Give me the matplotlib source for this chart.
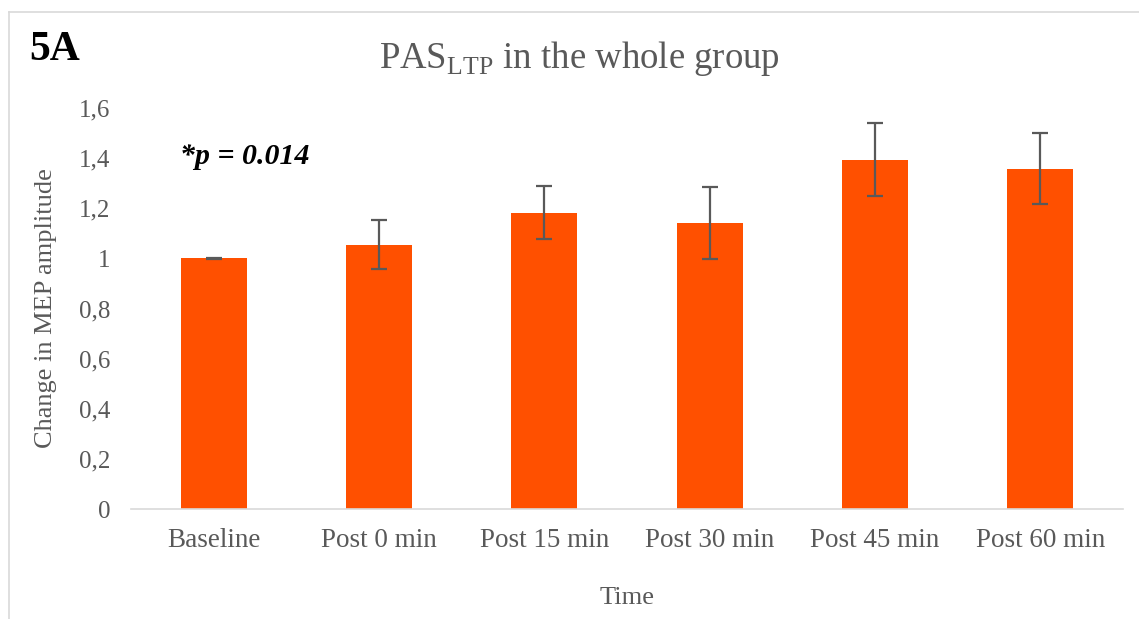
import numpy as np
import matplotlib.pyplot as plt
from matplotlib.lines import Line2D

plt.rcParams['font.family'] = ['Liberation Serif', 'DejaVu Serif']
plt.rcParams['mathtext.fontset'] = 'custom'
plt.rcParams['mathtext.rm'] = 'Liberation Serif'

# data
categories = ['Baseline', 'Post 0 min', 'Post 15 min', 'Post 30 min', 'Post 45 min', 'Post 60 min']
values = [1.0, 1.054, 1.183, 1.142, 1.394, 1.358]
errors = [0.002, 0.098, 0.105, 0.143, 0.145, 0.142]
yticks = [0, 0.2, 0.4, 0.6, 0.8, 1.0, 1.2, 1.4, 1.6]
ytick_labels = ['0', '0,2', '0,4', '0,6', '0,8', '1', '1,2', '1,4', '1,6']

grey = '#595959'
bar_col = '#FF5000'

fig = plt.figure(figsize=(11.39, 6.19), dpi=100)
ax = fig.add_axes([0.115, 0.1777, 0.871, 0.6478])

x = np.arange(len(categories))
ax.bar(x, values, width=0.4, color=bar_col, zorder=2)
ax.errorbar(x, values, yerr=errors, fmt='none', ecolor=grey, elinewidth=1.6,
            capsize=6, capthick=1.6, zorder=3)

ax.set_xlim(-0.5, len(categories) - 0.5)
ax.set_ylim(0, 1.6)
ax.set_yticks(yticks)
ax.set_yticklabels(ytick_labels)
ax.set_xticks(x)
ax.set_xticklabels(categories)
ax.tick_params(axis='x', length=0, colors=grey, labelsize=19.5, pad=14)
ax.tick_params(axis='y', length=0, colors=grey, labelsize=18, pad=15)
for s in ['top', 'right', 'left']:
    ax.spines[s].set_visible(False)
ax.spines['bottom'].set_color('#d9d9d9')
ax.spines['bottom'].set_linewidth(1.2)

ax.set_xlabel('Time', color=grey, fontsize=19, labelpad=24)
ax.set_ylabel('Change in MEP amplitude', color=grey, fontsize=19, labelpad=16)

fig.text(0.509, 0.905, r'PAS$_{\mathrm{LTP}}$ in the whole group', color=grey,
         fontsize=26.5, ha='center', va='center')
fig.text(0.026, 0.919, '5A', color='black', fontsize=30, fontweight='bold',
         ha='left', va='center')
ax.text(-0.204, 1.405, '*p = 0.014', color='black', fontsize=21.5, fontweight='bold',
        fontstyle='italic', ha='left', va='center')

# outer frame of the chart area
fig.add_artist(Line2D([9 / 1139, 1.0], [1 - 12 / 619, 1 - 12 / 619], color='#d9d9d9', lw=1.2))
fig.add_artist(Line2D([9 / 1139, 9 / 1139], [0.0, 1 - 12 / 619], color='#d9d9d9', lw=1.2))

fig.savefig('out.png', dpi=100)
